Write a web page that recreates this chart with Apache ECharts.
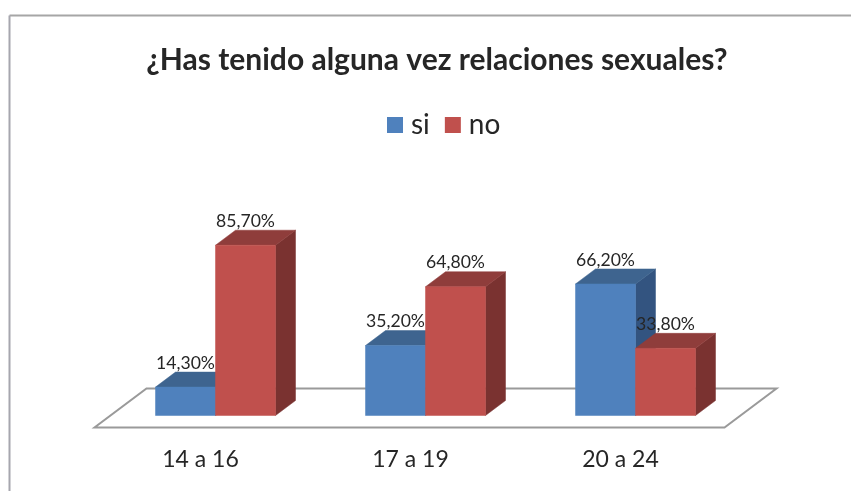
<!DOCTYPE html>
<html>
<head>
<meta charset="utf-8">
<style>html,body{margin:0;padding:0;background:#fff}#chart{width:851px;height:491px}</style>
<script src="https://cdn.jsdelivr.net/npm/echarts@6/dist/echarts.min.js"></script>
</head>
<body>
<div id="chart"></div>
<script>
const titleText = '¿Has tenido alguna vez relaciones sexuales?';
const categories = ['14 a 16', '17 a 19', '20 a 24'];
const siValues = [14.3, 35.2, 66.2];
const noValues = [85.7, 64.8, 33.8];

const DEPTH_X = 20, DEPTH_Y = 15, BAR_W = 60;
const TEXT = '#262626';
const FONT = 'Lato, "Open Sans", sans-serif';
const fmt = v => v.toFixed(2).replace('.', ',') + '%';

function poly(points, fill) {
  return { type: 'polygon', shape: { points }, style: { fill, stroke: fill, lineWidth: 0.5 } };
}

function barRenderer(shift, front, top, side) {
  return function (params, api) {
    const cat = api.value(0), val = api.value(1);
    const base = api.coord([cat, 0]);
    const head = api.coord([cat, val]);
    const x0 = base[0] + shift * BAR_W, x1 = x0 + BAR_W;
    const yb = base[1], yt = head[1];
    return {
      type: 'group',
      children: [
        poly([[x1, yb], [x1 + DEPTH_X, yb - DEPTH_Y], [x1 + DEPTH_X, yt - DEPTH_Y], [x1, yt]], side),
        poly([[x0, yt], [x0 + DEPTH_X, yt - DEPTH_Y], [x1 + DEPTH_X, yt - DEPTH_Y], [x1, yt]], top),
        poly([[x0, yb], [x1, yb], [x1, yt], [x0, yt]], front),
        {
          type: 'text', z2: 100,
          style: {
            text: fmt(val), x: (x0 + x1) / 2, y: yt - DEPTH_Y - 9,
            align: 'center', verticalAlign: 'middle',
            fill: TEXT, font: '17.6px ' + FONT
          }
        }
      ]
    };
  };
}

function floorRenderer(params, api) {
  const gx = params.coordSys.x, gw = params.coordSys.width;
  const yb = api.coord([0, 0])[1];
  const front = yb + 12, back = yb - 27;
  return {
    type: 'polygon',
    shape: { points: [[gx - 16, front], [gx + gw - 16, front], [gx + gw + 36, back], [gx + 36, back]] },
    style: { fill: '#ffffff', stroke: '#9a9a9a', lineWidth: 2 }
  };
}

const chart = echarts.init(document.getElementById('chart'), null, { renderer: 'canvas' });
chart.setOption({
  animation: false,
  backgroundColor: '#ffffff',
  title: {
    text: titleText, left: 432, top: 55, textAlign: 'center', textVerticalAlign: 'middle',
    textStyle: { fontFamily: FONT, fontSize: 30, fontWeight: 'bold', color: TEXT }
  },
  legend: {
    data: ['si', 'no'], left: 382, top: 106, itemWidth: 16, itemHeight: 16, itemGap: 15,
    icon: 'rect', selectedMode: false,
    textStyle: { fontFamily: FONT, fontSize: 28, color: TEXT, padding: [0, 0, 0, 3] }
  },
  grid: { left: 110.5, right: 110.5, top: 216.8, bottom: 75.5 },
  xAxis: {
    type: 'category', data: categories,
    axisLine: { show: false }, axisTick: { show: false }, splitLine: { show: false },
    axisLabel: { fontFamily: FONT, fontSize: 23, color: TEXT, margin: 33, padding: [0, 30, 0, 0] }
  },
  yAxis: { type: 'value', min: 0, max: 100, show: false },
  series: [
    {
      name: 'floor', type: 'custom', silent: true, z: 1, clip: false,
      data: [[0, 0]], renderItem: floorRenderer, encode: { x: 0, y: 1 }
    },
    {
      name: 'si', type: 'custom', z: 2, clip: false, itemStyle: { color: '#4f81bd' },
      data: siValues.map((v, i) => [i, v]), encode: { x: 0, y: 1 },
      renderItem: barRenderer(-1, '#4f81bd', '#3e648f', '#335480')
    },
    {
      name: 'no', type: 'custom', z: 3, clip: false, itemStyle: { color: '#c0504d' },
      data: noValues.map((v, i) => [i, v]), encode: { x: 0, y: 1 },
      renderItem: barRenderer(0, '#c0504d', '#8f3d3b', '#7a3230')
    }
  ],
  graphic: [
    { type: 'line', shape: { x1: 9.5, y1: 15.5, x2: 851, y2: 15.5 }, style: { stroke: '#a6a6a6', lineWidth: 2 } },
    { type: 'line', shape: { x1: 9.5, y1: 15.5, x2: 9.5, y2: 491 }, style: { stroke: '#a6a6ae', lineWidth: 2 } }
  ]
});
</script>
</body>
</html>
